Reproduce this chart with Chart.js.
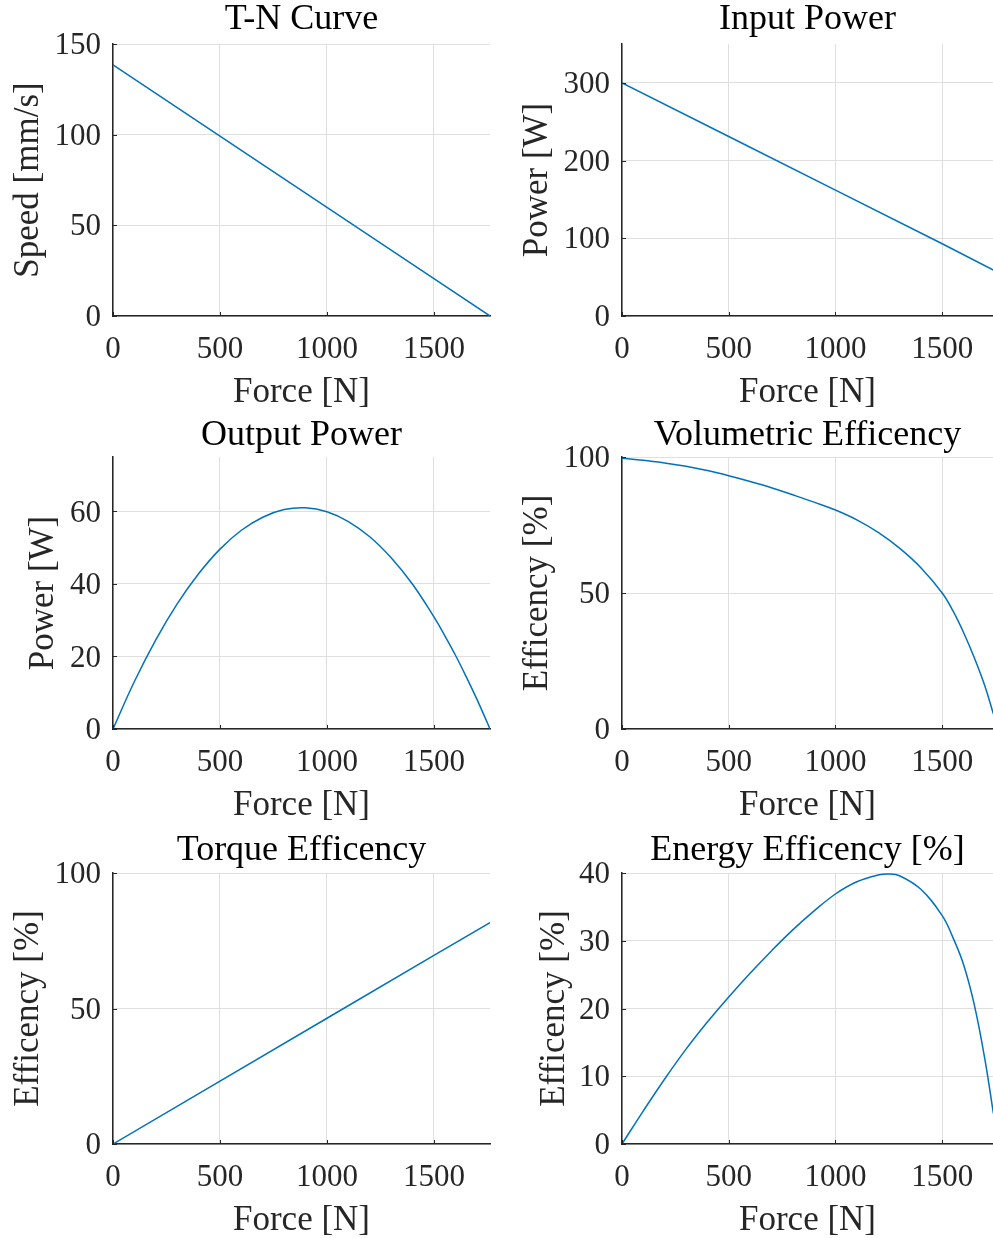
<!DOCTYPE html>
<html>
<head>
<meta charset="utf-8">
<script src="https://cdn.jsdelivr.net/npm/chart.js@4/dist/chart.umd.min.js"></script>
<style>
    html, body { margin: 0; padding: 0; background: #fff; overflow: hidden; }
    #wrap { position: relative; width: 993px; height: 1238px; }
    canvas { position: absolute; }
</style>
</head>
<body>
<div id="wrap"></div>
<script>
// Data
const forceTicks = [0, 500, 1000, 1500];

// straight lines
const forceLine = [0, 500, 1000, 1500, 1762];
const speed = [138.5, 99.2, 59.9, 20.6, 0];
const inputPower = [300, 231, 162, 93, 56];
const torqueEff = [0, 23.2, 46.4, 69.6, 81.7];

// curves
const forceOut = [0, 100, 200, 300, 400, 500, 600, 700, 800, 900, 1000, 1100, 1200, 1300, 1400, 1500, 1550, 1600, 1650, 1700, 1740, 1762];
const outputPower = [0, 13.1, 24.6, 34.5, 42.8, 49.6, 54.8, 58.4, 60.5, 61.0, 59.9, 57.2, 53.0, 47.2, 39.9, 30.9, 25.8, 20.4, 14.5, 8.3, 3.0, 0];

const forceVol = [0, 100, 200, 300, 400, 500, 600, 700, 800, 900, 1000, 1100, 1200, 1300, 1400, 1500, 1550, 1600, 1650, 1700, 1740];
const volEff = [99.5, 98.8, 97.8, 96.6, 95.0, 93.1, 91.0, 88.7, 86.1, 83.4, 80.5, 76.9, 72.3, 66.5, 59.3, 50.0, 43.5, 35.5, 26.3, 15.8, 5.5];

const forceEnergy = [0, 100, 200, 300, 400, 500, 600, 700, 800, 900, 1000, 1100, 1200, 1250, 1300, 1400, 1500, 1550, 1600, 1650, 1700, 1740];
const energyEff = [0, 4.9, 9.6, 14.0, 18.0, 21.7, 25.2, 28.5, 31.6, 34.4, 36.9, 38.7, 39.7, 39.85, 39.6, 37.6, 33.7, 30.5, 26.5, 20.6, 12.5, 4.5];

const speedTicks = [0, 50, 100, 150];
const inputTicks = [0, 100, 200, 300];
const outputTicks = [0, 20, 40, 60];
const pctTicks = [0, 50, 100];
const energyTicks = [0, 10, 20, 30, 40];

const FONT = '"Liberation Serif", "Times New Roman", Times, serif';
const TEXT = '#262626';
const GRID = '#dfdfdf';
const LINE = '#0072BD';

// subplot geometry (canvas coords)
const rows = [
    { top: 0, h: 413, plotTop: 44, plotBottom: 316, titleMid: 17.5 },
    { top: 413, h: 413, plotTop: 44, plotBottom: 316, titleMid: 20.5 },
    { top: 826, h: 412, plotTop: 47, plotBottom: 318, titleMid: 22 }
];
const cols = [
    { left: 0, w: 496, plotLeft: 113, plotRight: 490, xMax: 1762 },
    { left: 507, w: 486, plotLeft: 115, plotRight: 486, xMax: 1738 }
];

const panels = [
    { row: 0, col: 0, title: 'T-N Curve', yLabel: 'Speed [mm/s]', labelMid: 27, xs: forceLine, ys: speed, yMax: 150, yTicks: speedTicks, curve: false },
    { row: 0, col: 1, title: 'Input Power', yLabel: 'Power [W]', labelMid: 29, xs: forceLine, ys: inputPower, yMax: 350, yTicks: inputTicks, curve: false },
    { row: 1, col: 0, title: 'Output Power', yLabel: 'Power [W]', labelMid: 42, xs: forceOut, ys: outputPower, yMax: 75, yTicks: outputTicks, curve: true },
    { row: 1, col: 1, title: 'Volumetric Efficency', yLabel: 'Efficency [%]', labelMid: 29, xs: forceVol, ys: volEff, yMax: 100, yTicks: pctTicks, curve: true },
    { row: 2, col: 0, title: 'Torque Efficency', yLabel: 'Efficency [%]', labelMid: 27, xs: forceLine, ys: torqueEff, yMax: 100, yTicks: pctTicks, curve: false },
    { row: 2, col: 1, title: 'Energy Efficency [%]', yLabel: 'Efficency [%]', labelMid: 46, xs: forceEnergy, ys: energyEff, yMax: 40, yTicks: energyTicks, curve: true }
];

// MATLAB-style inward tick marks
const inwardTicks = {
    id: 'inwardTicks',
    afterDraw(chart) {
        const { ctx, chartArea } = chart;
        const x = chart.scales.x;
        const y = chart.scales.y;
        ctx.save();
        ctx.strokeStyle = TEXT;
        ctx.lineWidth = 1;
        ctx.beginPath();
        x.ticks.forEach(t => {
            const px = Math.round(x.getPixelForValue(t.value)) + 0.5;
            ctx.moveTo(px, chartArea.bottom);
            ctx.lineTo(px, chartArea.bottom - 4);
        });
        y.ticks.forEach(t => {
            const py = Math.round(y.getPixelForValue(t.value)) + 0.5;
            ctx.moveTo(chartArea.left, py);
            ctx.lineTo(chartArea.left + 4, py);
        });
        ctx.stroke();
        ctx.restore();
    }
};

function makePlot(p) {
    const r = rows[p.row];
    const c = cols[p.col];
    const xAxisH = 94;
    const padLeft = p.labelMid - 17.5 + 2;

    const canvas = document.createElement('canvas');
    canvas.width = c.w;
    canvas.height = r.h;
    canvas.style.left = c.left + 'px';
    canvas.style.top = r.top + 'px';
    document.getElementById('wrap').appendChild(canvas);

    return new Chart(canvas.getContext('2d'), {
        type: 'line',
        data: {
            datasets: [{
                data: p.xs.map((f, i) => ({ x: f, y: p.ys[i] })),
                borderColor: LINE,
                borderWidth: 1.5,
                pointRadius: 0,
                fill: false,
                tension: p.curve ? 0.4 : 0
            }]
        },
        options: {
            responsive: false,
            animation: false,
            events: [],
            layout: {
                padding: {
                    top: 0,
                    left: padLeft,
                    right: c.w - c.plotRight,
                    bottom: Math.max(r.h - r.plotBottom - xAxisH, 0)
                }
            },
            plugins: {
                legend: { display: false },
                tooltip: { enabled: false },
                title: {
                    display: true,
                    fullSize: false,
                    text: p.title,
                    color: '#000',
                    font: { family: FONT, size: 36, weight: 'normal', lineHeight: 1 },
                    padding: { top: r.titleMid - 18 + 2.5, bottom: r.plotTop - r.titleMid - 18 - 2.5 }
                }
            },
            scales: {
                x: {
                    type: 'linear',
                    min: 0,
                    max: c.xMax,
                    afterBuildTicks: s => { s.ticks = forceTicks.map(v => ({ value: v })); },
                    afterFit: s => { s.height = xAxisH; },
                    ticks: {
                        color: TEXT,
                        padding: 15,
                        maxRotation: 0,
                        autoSkip: false,
                        font: { family: FONT, size: 31 },
                        callback: v => String(v)
                    },
                    grid: { color: GRID, lineWidth: 1, drawTicks: false },
                    border: { color: TEXT, width: 1.5 },
                    title: {
                        display: true,
                        text: 'Force [N]',
                        color: TEXT,
                        padding: 0,
                        font: { family: FONT, size: 35, lineHeight: 1 }
                    }
                },
                y: {
                    type: 'linear',
                    min: 0,
                    max: p.yMax,
                    afterBuildTicks: s => { s.ticks = p.yTicks.map(v => ({ value: v })); },
                    afterFit: s => { s.width = c.plotLeft - padLeft; },
                    ticks: {
                        color: TEXT,
                        padding: 12,
                        labelOffset: 2,
                        autoSkip: false,
                        font: { family: FONT, size: 31 },
                        callback: v => String(v)
                    },
                    grid: { color: GRID, lineWidth: 1, drawTicks: false },
                    border: { color: TEXT, width: 1.5 },
                    title: {
                        display: true,
                        text: p.yLabel,
                        color: TEXT,
                        padding: 0,
                        font: { family: FONT, size: 35, lineHeight: 1 }
                    }
                }
            }
        },
        plugins: [inwardTicks]
    });
}

const charts = panels.map(makePlot);
</script>
</body>
</html>
